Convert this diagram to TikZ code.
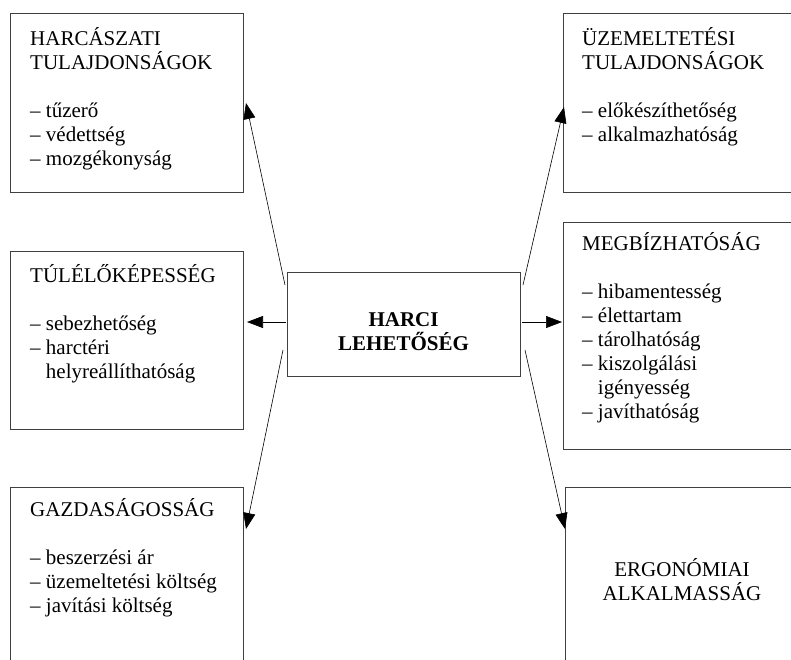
\documentclass[tikz,border=0pt]{standalone}
\usepackage{fontspec}
\setmainfont{Liberation Serif}
\usetikzlibrary{arrows.meta,calc}
\newcommand\mystrut{\rule{0pt}{20pt}}
\begin{document}
\begin{tikzpicture}[x=1pt,y=-1pt,
  box/.style={draw=black!75,line width=1pt,rectangle,inner sep=0pt,anchor=north west},
  txt/.style={align=left,inner sep=0pt,anchor=north west,font=\fontsize{21}{24}\selectfont},
  conn/.style={line width=0.6pt,-{Triangle[length=16pt,width=12pt]}}]
\useasboundingbox (0,0) rectangle (791,659);
\clip (0,0) rectangle (791,659);
% boxes
\node[box,minimum width=233pt,minimum height=179pt] (b1) at (10,13) {};
\node[box,minimum width=233pt,minimum height=178pt] (b2) at (10,251) {};
\node[box,minimum width=233pt,minimum height=220pt] (b3) at (10,487) {};
\node[box,minimum width=260pt,minimum height=179pt] (b4) at (563,13) {};
\node[box,minimum width=260pt,minimum height=227pt] (b5) at (563,222) {};
\node[box,minimum width=260pt,minimum height=220pt] (b6) at (565,487) {};
\node[box,minimum width=233pt,minimum height=104pt] (c) at (287,272) {};
\node[txt,align=center,anchor=base,font=\fontsize{21}{24}\selectfont\bfseries] (ct) at (403.5,350) {HARCI\\LEHETŐSÉG};
% texts (first baseline = y + 20)
\node[txt] (t1) at (30,25) {\mystrut HARCÁSZATI\\TULAJDONSÁGOK\\[24pt]– tűzerő\\– védettség\\– mozgékonyság};
\node[txt] (t2) at (30,262) {\mystrut TÚLÉLŐKÉPESSÉG\\[24pt]– sebezhetőség\\– harctéri\\\hphantom{–\ }helyreállíthatóság};
\node[txt] (t3) at (30,496) {\mystrut GAZDASÁGOSSÁG\\[24pt]– beszerzési ár\\– üzemeltetési költség\\– javítási költség};
\node[txt] (t4) at (582,25) {\mystrut ÜZEMELTETÉSI\\TULAJDONSÁGOK\\[24pt]– előkészíthetőség\\– alkalmazhatóság};
\node[txt] (t5) at (582,230) {\mystrut MEGBÍZHATÓSÁG\\[24pt]– hibamentesség\\– élettartam\\– tárolhatóság\\– kiszolgálási\\\hphantom{–\ }igényesség\\– javíthatóság};
\node[txt,align=center,anchor=base] (t6) at (682,600) {ERGONÓMIAI\\ALKALMASSÁG};
% connector endpoints
\coordinate (s1) at ($(c.north west)+(-2,13)$);
\coordinate (e1) at ($(b1.north east)+(2,90)$);
\coordinate (s2) at ($(c.north west)+(-1,50)$);
\coordinate (e2) at ($(b2.north east)+(3,71)$);
\coordinate (s3) at ($(c.south west)+(-4,-27)$);
\coordinate (e3) at ($(b3.north east)+(2,42)$);
\coordinate (s4) at ($(c.north east)+(2,13)$);
\coordinate (e4) at ($(b4.north west)+(1,94)$);
\coordinate (s5) at ($(c.north east)+(1,50)$);
\coordinate (e5) at ($(b5.north west)+(-1,100)$);
\coordinate (s6) at ($(c.south east)+(4,-27)$);
\coordinate (e6) at ($(b6.north west)+(0,42)$);
\draw[conn] (s1) -- (e1);
\draw[conn] (s2) -- (e2);
\draw[conn] (s3) -- (e3);
\draw[conn] (s4) -- (e4);
\draw[conn] (s5) -- (e5);
\draw[conn] (s6) -- (e6);
\end{tikzpicture}
\end{document}
